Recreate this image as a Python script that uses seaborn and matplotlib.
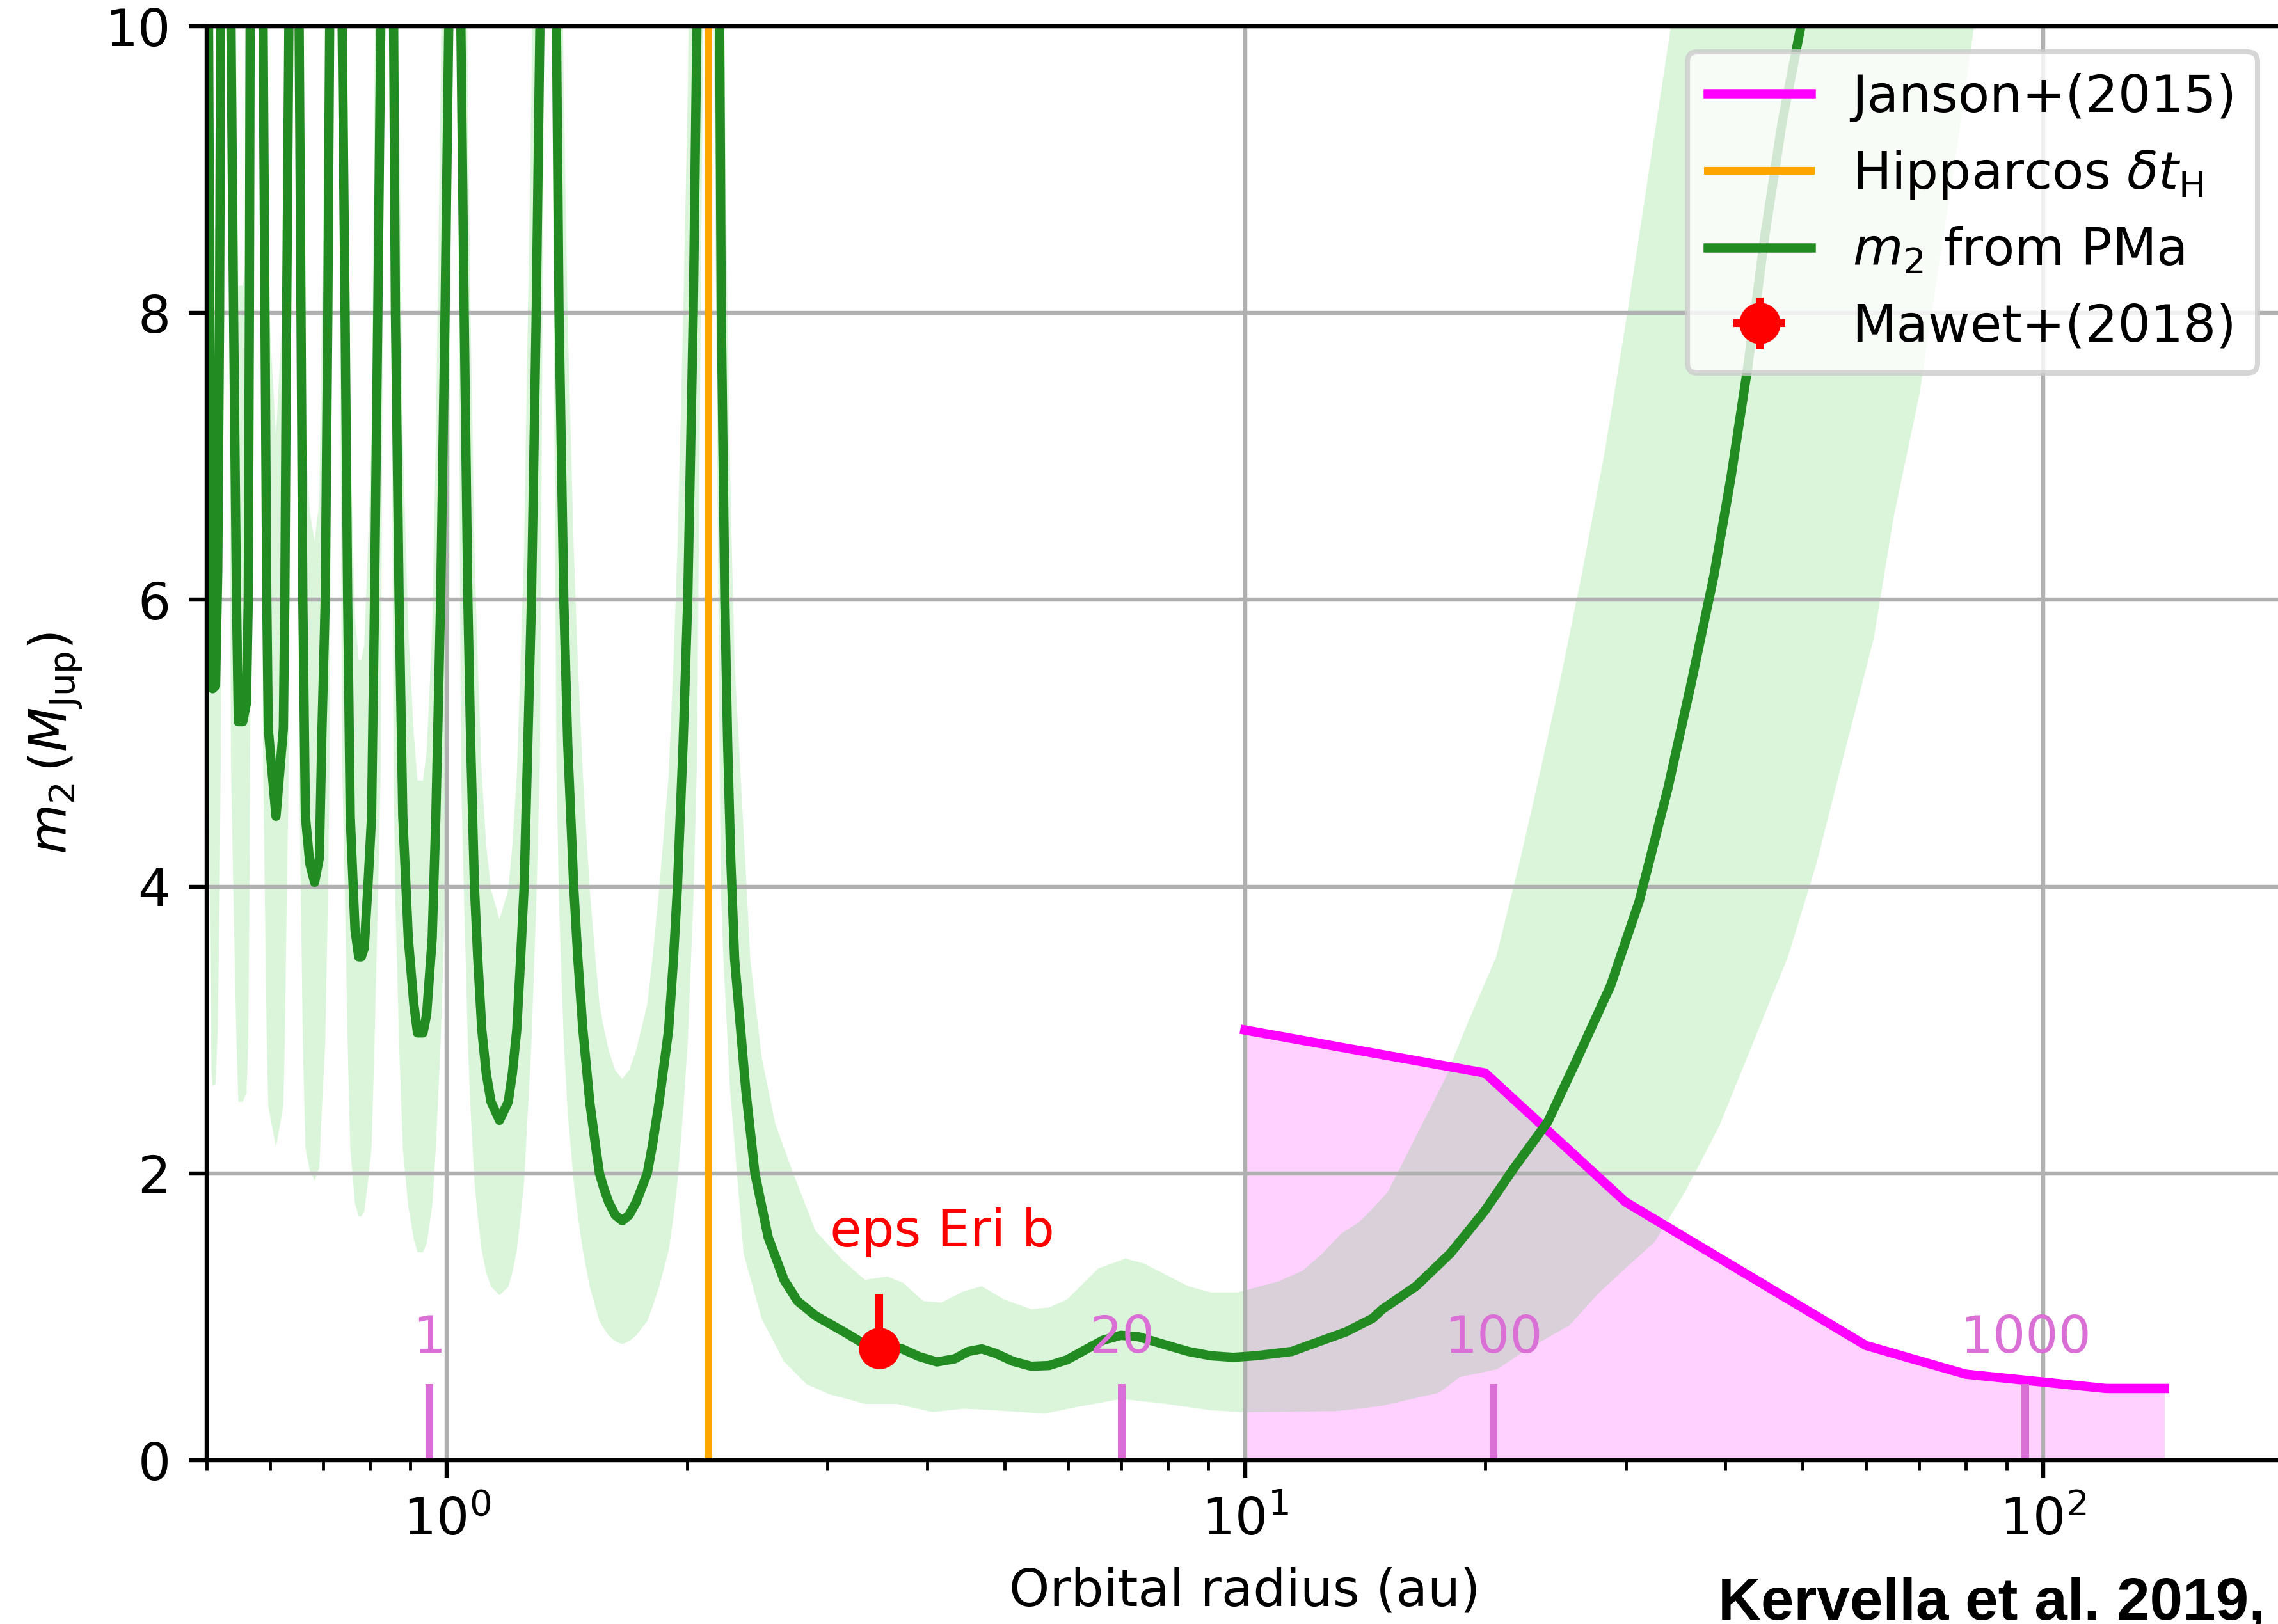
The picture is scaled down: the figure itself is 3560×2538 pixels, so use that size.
import matplotlib
matplotlib.use("Agg")
import matplotlib.pyplot as plt
import seaborn as sns

# ---------------------------------------------------------------------------
# Companion mass (M_Jup) detectable from the proper-motion anomaly of eps Eri,
# as a function of orbital radius (au).
# Part 1: resonance loops inside the Hipparcos window (poles between loops).
loop_r = [0.5000, 0.50271, 0.50538, 0.50699, 0.50861, 0.51294, 0.51621, 0.51896, 0.52062,
          0.52841,
          0.53633, 0.54033, 0.54493, 0.54783, 0.55484, 0.56076, 0.56374, 0.56555, 0.56675,
          0.57832,
          0.58842, 0.59155, 0.59469, 0.59723, 0.61068, 0.62377, 0.62643, 0.62976, 0.63378,
          0.64325,
          0.65289, 0.65636, 0.65985, 0.66477, 0.67327, 0.68262, 0.69209, 0.69725, 0.70394,
          0.70918, 0.71295,
          0.72592,
          0.73915, 0.74544, 0.75100, 0.75659, 0.76710, 0.77529, 0.78107, 0.78773, 0.79614,
          0.80464, 0.81149, 0.81926, 0.82627,
          0.84130,
          0.85744, 0.86200, 0.87119, 0.88049, 0.89458, 0.90895, 0.91864, 0.93328, 0.94326,
          0.95839, 0.96862, 0.98206, 0.99465, 1.00526,
          1.02242,
          1.04107, 1.05106, 1.06227, 1.071, 1.08273, 1.093, 1.10595, 1.12, 1.13571, 1.16376,
          1.19375, 1.208, 1.22323, 1.237, 1.24946, 1.263, 1.27628, 1.29398, 1.30776,
          1.33859,
          1.37171, 1.38194, 1.40118, 1.417, 1.44186, 1.459, 1.48067, 1.51, 1.535, 1.55308,
          1.572, 1.59483, 1.625, 1.65872, 1.692, 1.72686, 1.78270, 1.81, 1.845, 1.89594,
          1.923, 1.94489, 1.977, 2.00349, 2.03565, 2.05734,
          2.1282]
loop_m2 = [11.0, 10.0, 7.0, 5.6, 5.38, 5.40, 6.2, 8.0, 10.0,
           30.0,
           10.0, 8.0, 6.0, 5.15, 5.15, 5.28, 6.0, 8.0, 10.0,
           30.0,
           10.0, 8.0, 6.0, 5.1, 4.49, 5.1, 6.0, 8.0, 10.0,
           30.0,
           10.0, 8.0, 6.0, 4.49, 4.16, 4.03, 4.20, 5.08, 6.0, 8.0, 10.0,
           30.0,
           10.0, 8.0, 6.0, 4.49, 3.70, 3.51, 3.51, 3.57, 4.0, 4.49, 6.0, 8.0, 10.0,
           30.0,
           10.0, 8.0, 6.0, 4.49, 3.64, 3.18, 2.98, 2.98, 3.11, 3.64, 4.49, 6.0, 8.0, 10.0,
           30.0,
           10.0, 8.0, 6.0, 5.0, 4.0, 3.5, 3.0, 2.7, 2.5, 2.37,
           2.5, 2.7, 3.0, 3.5, 4.0, 5.0, 6.0, 8.0, 10.0,
           30.0,
           10.0, 8.0, 6.0, 5.0, 4.0, 3.5, 3.0, 2.5, 2.2, 2.0,
           1.9, 1.8, 1.71, 1.67, 1.71, 1.8, 2.0, 2.2, 2.5, 3.0,
           3.5, 4.0, 5.0, 6.0, 8.0, 10.0,
           30.0]
loop_lo = [5.3, 4.85, 3.4, 2.72, 2.61, 2.62, 3.0, 3.88, 4.85,
           14.5,
           4.85, 3.88, 2.91, 2.50, 2.50, 2.56, 2.91, 3.88, 4.85,
           14.5,
           4.85, 3.88, 2.91, 2.47, 2.18, 2.47, 2.91, 3.88, 4.85,
           14.5,
           4.85, 3.88, 2.91, 2.18, 2.02, 1.95, 2.04, 2.46, 2.91, 3.88, 4.85,
           14.5,
           4.85, 3.88, 2.91, 2.18, 1.79, 1.70, 1.70, 1.73, 1.94, 2.18, 2.91, 3.88, 4.85,
           14.5,
           4.85, 3.88, 2.91, 2.18, 1.77, 1.54, 1.45, 1.45, 1.51, 1.77, 2.18, 2.91, 3.88, 4.85,
           14.5,
           4.85, 3.88, 2.91, 2.43, 1.94, 1.70, 1.46, 1.31, 1.21, 1.15,
           1.21, 1.31, 1.46, 1.70, 1.94, 2.43, 2.91, 3.88, 4.85,
           14.5,
           4.85, 3.88, 2.91, 2.43, 1.94, 1.70, 1.46, 1.21, 1.07, 0.97,
           0.92, 0.87, 0.83, 0.81, 0.83, 0.87, 0.97, 1.07, 1.21, 1.46,
           1.70, 1.94, 2.43, 2.91, 3.88, 4.85,
           14.5]
loop_hi = [17.5, 15.9, 11.1, 8.9, 8.55, 8.6, 9.86, 12.7, 15.9,
           48.0,
           15.9, 12.7, 9.54, 8.19, 8.19, 8.4, 9.54, 12.7, 15.9,
           48.0,
           15.9, 12.7, 9.54, 8.11, 7.14, 8.11, 9.54, 12.7, 15.9,
           48.0,
           15.9, 12.7, 9.54, 7.14, 6.61, 6.41, 6.68, 8.08, 9.54, 12.7, 15.9,
           48.0,
           15.9, 12.7, 9.54, 7.14, 5.88, 5.58, 5.58, 5.68, 6.36, 7.14, 9.54, 12.7, 15.9,
           48.0,
           15.9, 12.7, 9.54, 7.14, 5.79, 5.06, 4.74, 4.74, 4.94, 5.79, 7.14, 9.54, 12.7, 15.9,
           48.0,
           15.9, 12.7, 9.54, 7.95, 6.36, 5.57, 4.77, 4.29, 3.98, 3.77,
           3.98, 4.29, 4.77, 5.57, 6.36, 7.95, 9.54, 12.7, 15.9,
           48.0,
           15.9, 12.7, 9.54, 7.95, 6.36, 5.57, 4.77, 3.98, 3.50, 3.18,
           3.02, 2.86, 2.72, 2.66, 2.72, 2.86, 3.18, 3.50, 3.98, 4.77,
           5.57, 6.36, 7.95, 9.54, 12.7, 15.9,
           48.0]

# Part 2: beyond the Hipparcos window
tail_r = [2.19684, 2.207, 2.230, 2.248, 2.268, 2.294, 2.369, 2.432, 2.527, 2.645,
          2.75, 2.896, 3.172, 3.297, 3.496, 3.706, 3.903, 4.111, 4.330, 4.501,
          4.679, 4.865, 5.124, 5.397, 5.684, 5.986, 6.305, 6.640, 6.993, 7.366,
          7.962, 8.493, 9.064, 9.671, 10.32, 11.45, 12.70, 13.38, 14.46, 14.85,
          16.40, 18.10, 19.98, 21.71, 23.97, 26.02, 28.73, 31.20, 33.89, 36.20,
          38.67, 40.63, 42.69, 44.85, 47.13, 49.69, 50.5]
tail_m2 = [10.0, 8.0, 6.0, 5.0, 4.2, 3.49, 2.58, 2.0, 1.554, 1.258,
           1.11, 1.008, 0.883, 0.826, 0.780, 0.780, 0.723, 0.685, 0.707, 0.758,
           0.776, 0.746, 0.689, 0.655, 0.660, 0.700, 0.769, 0.837, 0.871, 0.860,
           0.803, 0.758, 0.728, 0.717, 0.728, 0.758, 0.849, 0.894, 0.99, 1.05,
           1.215, 1.444, 1.739, 2.033, 2.361, 2.786, 3.310, 3.899, 4.685, 5.404,
           6.158, 6.845, 7.631, 8.547, 9.332, 9.987, 10.3]

# Uncertainty envelope beyond the Hipparcos window (upper and lower edges)
hi_r = [2.19684, 2.207, 2.230, 2.248, 2.268, 2.294, 2.369, 2.40, 2.480, 2.578,
        2.716, 2.897, 3.131, 3.341, 3.565, 3.730, 3.954, 4.165, 4.443, 4.679,
        4.992, 5.397, 5.685, 5.985, 6.554, 7.085, 7.462, 7.962, 8.494, 9.064,
        9.795, 11.01, 11.8, 12.5, 13.2, 13.9, 14.37, 15.1, 16.39, 17.80,
        19.02, 20.65, 22.07, 23.19, 24.76, 26.46, 28.26, 30.19, 32.25, 34.17,
        34.8]
hi_m = [15.9, 12.7, 9.54, 7.95, 6.68, 5.55, 4.10, 3.49, 2.81, 2.35,
        2.0, 1.60, 1.395, 1.258, 1.281, 1.237, 1.110, 1.099, 1.178, 1.213,
        1.121, 1.053, 1.065, 1.121, 1.338, 1.406, 1.373, 1.293, 1.213, 1.17,
        1.17, 1.247, 1.32, 1.44, 1.58, 1.66, 1.74, 1.87, 2.26, 2.655,
        3.05, 3.51, 4.16, 4.685, 5.40, 6.19, 7.04, 8.02, 9.07, 9.99,
        10.4]
lo_r = [2.19684, 2.207, 2.221, 2.264, 2.354, 2.480, 2.645, 2.822, 3.011, 3.341,
        3.659, 4.058, 4.443, 4.865, 5.611, 6.144, 6.995, 7.962, 9.064, 10.0,
        13.1, 14.84, 17.5, 18.6, 20.7, 22.4, 25.5, 27.7, 30.0, 32.6,
        35.6, 39.3, 43.4, 47.91, 52.03, 56.5, 61.37, 65.02, 70.01, 73.56,
        77.96, 81.92, 82.6]
lo_m = [4.85, 3.9, 3.49, 2.58, 1.441, 0.986, 0.689, 0.530, 0.461, 0.393,
        0.393, 0.336, 0.359, 0.348, 0.325, 0.370, 0.427, 0.393, 0.348, 0.334,
        0.343, 0.379, 0.47, 0.58, 0.634, 0.76, 0.94, 1.16, 1.34, 1.52,
        1.87, 2.33, 2.92, 3.51, 4.16, 4.95, 5.73, 6.58, 7.43, 8.22,
        9.13, 9.99, 10.4]

# Janson et al. (2015) imaging detection limit
janson_r = [10, 20, 30, 60, 80, 120, 142]
janson_m = [3.0, 2.7, 1.8, 0.8, 0.6, 0.5, 0.5]

# Hipparcos time window expressed as an orbital radius (au)
hip_r = 2.128

# eps Eri b (Mawet et al. 2018)
mawet_r, mawet_r_err = 3.48, 0.02
mawet_m, mawet_m_lo, mawet_m_hi = 0.78, 0.12, 0.38

# Orbital period markers (years), placed with Kepler's third law
period_yr = [1, 20, 100, 1000]
star_mass = 0.86  # M_sun

# ---------------------------------------------------------------------------
sns.set_style("ticks", rc={
    "axes.edgecolor": "black", "axes.labelcolor": "black", "text.color": "black",
    "xtick.color": "black", "ytick.color": "black",
    "lines.solid_capstyle": "projecting",
})
plt.rcParams["font.family"] = ["DejaVu Sans"]
plt.rcParams["font.size"] = 10

DPI = 580
fig = plt.figure(figsize=((3560 + 0.01) / DPI, (2538 + 0.01) / DPI), dpi=DPI)
ax = fig.add_axes([323 / 3560, 1 - 2282 / 2538, (3568 - 323) / 3560, (2282 - 41) / 2538])
ax.set_xscale("log")

# Filled regions
ax.fill_between(janson_r, 0, janson_m, color="magenta", alpha=0.18, lw=0, zorder=1.0)
up_r = loop_r + hi_r
up_m = loop_hi + hi_m
low_r = loop_r + lo_r
low_m = loop_lo + lo_m
ax.fill(up_r + low_r[::-1], up_m + low_m[::-1], color="limegreen", alpha=0.18,
        lw=0, zorder=1.2)

# Curves
sns.lineplot(x=janson_r, y=janson_m, ax=ax, color="magenta", lw=1.8,
             estimator=None, sort=False, zorder=2.1)
janson_line = ax.lines[-1]
hip_line = ax.axvline(hip_r, color="orange", lw=1.5, zorder=2.0)
sns.lineplot(x=loop_r + tail_r, y=loop_m2 + tail_m2, ax=ax, color="forestgreen", lw=1.8,
             estimator=None, sort=False, zorder=2.2)
pma_line = ax.lines[-1]
pma_line.set_solid_joinstyle("round")

mawet = ax.errorbar(mawet_r, mawet_m, xerr=mawet_r_err,
                    yerr=[[mawet_m_lo], [mawet_m_hi]], fmt="o", color="red",
                    ms=7, elinewidth=1.5, capsize=0, zorder=3)
ax.text(3.02, 1.49, "eps Eri b", color="red", ha="left", va="baseline", zorder=4)

# Orbital period markers
period_r = [(p ** 2 * star_mass) ** (1.0 / 3.0) for p in period_yr]
ax.vlines(period_r, 0, 0.53, color="orchid", lw=1.5, zorder=2.3)
for p, r in zip(period_yr, period_r):
    ax.text(r, 0.75, str(p), color="orchid", ha="center", va="baseline", zorder=4)

# Axes
ax.set_xlim(0.5, 200)
ax.set_ylim(0, 10)
ax.set_axisbelow("line")
ax.grid(True, which="major", color="#b0b0b0", lw=0.8)
ax.set_xlabel("Orbital radius (au)")
ax.set_ylabel(r"$m_2\,(M_\mathrm{Jup})$")

ax.legend(handles=[janson_line, hip_line, pma_line, mawet],
          labels=["Janson+(2015)", r"Hipparcos $\delta t_\mathrm{H}$",
                  r"$m_2$ from PMa", "Mawet+(2018)"],
          loc="upper right")

fig.text(0.7542, 0.0030, "Kervella et al. 2019,", fontfamily="Liberation Sans",
         fontweight="bold", fontsize=11.5, ha="left", va="baseline", color="black")

fig.savefig("out.png", dpi=DPI)
